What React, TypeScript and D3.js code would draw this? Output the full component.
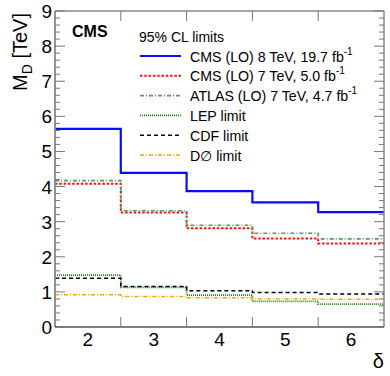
import React from "react";
import * as d3 from "d3";

const deltas = [2, 3, 4, 5, 6];
const cms8 = [5.64, 4.39, 3.87, 3.55, 3.27];
const cms7 = [4.08, 3.26, 2.81, 2.52, 2.38];
const atlas7 = [4.17, 3.31, 2.9, 2.67, 2.51];
const lep = [1.48, 1.13, 0.91, 0.73, 0.65];
const cdf = [1.39, 1.15, 1.03, 0.98, 0.94];
const d0 = [0.92, 0.87, 0.83, 0.8, 0.79];
const yTicks = [0, 1, 2, 3, 4, 5, 6, 7, 8, 9];

const series = [
  { name: "CMS (LO) 8 TeV, 19.7 fb", sup: "-1", values: cms8, color: "#0a0aff", width: 2.2, dash: "" },
  { name: "CMS (LO) 7 TeV, 5.0 fb", sup: "-1", values: cms7, color: "#ff1010", width: 2, dash: "2.5,1.8" },
  { name: "ATLAS (LO) 7 TeV, 4.7 fb", sup: "-1", values: atlas7, color: "#5a9a5a", width: 1.6, dash: "4,2,1,2" },
  { name: "LEP limit", sup: "", values: lep, color: "#1a8a1a", width: 1.8, dash: "1,1" },
  { name: "CDF limit", sup: "", values: cdf, color: "#000000", width: 1.5, dash: "4,3" },
  { name: "D\u2205 limit", sup: "", values: d0, color: "#ffa500", width: 1.5, dash: "4,2,1,2" },
];

export default function App() {
  const W = 390, H = 376;
  const L = 55, R = 384, T = 11, B = 327;
  const x = d3.scaleLinear().domain([1.5, 6.5]).range([L, R]);
  const y = d3.scaleLinear().domain([0, 9]).range([B, T]);
  const line = d3
    .line<[number, number]>()
    .x((d) => x(d[0]))
    .y((d) => y(d[1]))
    .curve(d3.curveStepAfter);
  const pts = (vals: number[]): [number, number][] => {
    const p: [number, number][] = vals.map((v, i) => [deltas[i] - 0.5, v]);
    p.push([deltas[deltas.length - 1] + 0.5, vals[vals.length - 1]]);
    return p;
  };
  const minor: number[] = [];
  for (let i = 0; i <= 45; i++) minor.push(i * 0.2);
  const edges = deltas.slice(1).map((d) => d - 0.5);
  const font = "'Liberation Sans', Arial, Helvetica, sans-serif";
  return (
    <svg width={W} height={H} style={{ position: "absolute", left: 0, top: 0, background: "#fff" }} fontFamily={font}>
      <rect x={0} y={0} width={W} height={H} fill="#fff" />
      {series.map((s) => (
        <path key={s.name} d={line(pts(s.values)) || ""} fill="none" stroke={s.color} strokeWidth={s.width} strokeDasharray={s.dash} />
      ))}
      {/* frame */}
      <line x1={L} x2={L} y1={T} y2={B} stroke="#888" strokeWidth={1.8} />
      <line x1={L} x2={R} y1={T} y2={T} stroke="#888" strokeWidth={1.5} />
      <line x1={R} x2={R} y1={T} y2={B} stroke="#888" strokeWidth={1.5} />
      <line x1={L} x2={R} y1={B} y2={B} stroke="#000" strokeWidth={1.2} />
      {minor.map((v, i) => {
        const major = Math.abs(v - Math.round(v)) < 1e-6;
        const len = major ? 10 : 5;
        return (
          <g key={i}>
            <line x1={L} x2={L + len} y1={y(v)} y2={y(v)} stroke="#777" strokeWidth={1} />
            <line x1={R} x2={R - len} y1={y(v)} y2={y(v)} stroke="#777" strokeWidth={1} />
          </g>
        );
      })}
      {edges.map((e) => (
        <g key={e}>
          <line x1={x(e)} x2={x(e)} y1={B} y2={B - 10} stroke="#777" strokeWidth={1} />
          <line x1={x(e)} x2={x(e)} y1={T} y2={T + 10} stroke="#777" strokeWidth={1} />
        </g>
      ))}
      {yTicks.map((t) => (
        <text key={t} x={52} y={y(t) + 7} textAnchor="end" fontSize={19}>
          {t}
        </text>
      ))}
      {deltas.map((d) => (
        <text key={d} x={x(d)} y={346} textAnchor="middle" fontSize={19}>
          {d}
        </text>
      ))}
      <text x={384} y={368} textAnchor="end" fontSize={20}>
        δ
      </text>
      <text transform="translate(27,13) rotate(-90)" textAnchor="end" fontSize={20}>
        M<tspan fontSize={14} dy={5}>D</tspan>
        <tspan dy={-5}> [TeV]</tspan>
      </text>
      <text x={72} y={37} fontSize={16} fontWeight="bold">
        CMS
      </text>
      <text x={139} y={42} fontSize={14}>
        95% CL limits
      </text>
      {series.map((s, i) => {
        const ly = 56 + i * 19.8;
        return (
          <g key={"lg" + i}>
            <line x1={140} x2={181} y1={ly} y2={ly} stroke={s.color} strokeWidth={s.width} strokeDasharray={s.dash} />
            <text x={190} y={ly + 5.5} fontSize={14.2}>
              {s.name}
              {s.sup && (
                <tspan fontSize={10} dy={-7}>
                  {s.sup}
                </tspan>
              )}
            </text>
          </g>
        );
      })}
    </svg>
  );
}
